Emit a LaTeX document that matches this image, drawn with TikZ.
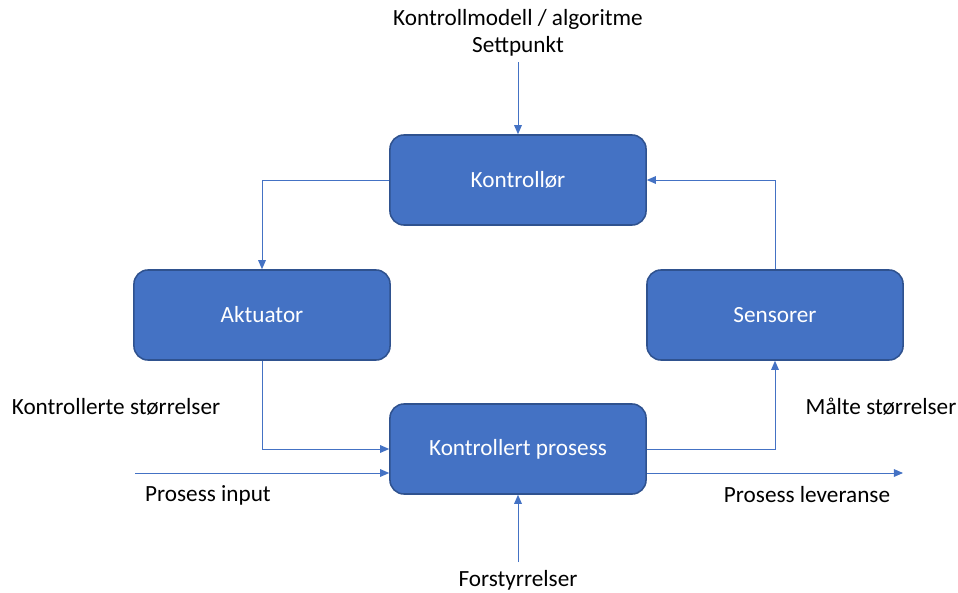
\documentclass[tikz,border=0pt]{standalone}
\usepackage{fontspec}
\setmainfont{Carlito}
\usetikzlibrary{arrows.meta}
\definecolor{boxblue}{HTML}{4472C4}
\definecolor{edgeblue}{HTML}{2F528F}

\begin{document}
\begin{tikzpicture}[x=0.025cm,y=-0.025cm,
  every node/.style={font=\fontsize{16.5}{20}\selectfont},
  block/.style={draw=edgeblue,line width=1.1pt,fill=boxblue,rounded corners=0.35cm,minimum width=6.4cm,minimum height=2.25cm,text=white},
  flow/.style={draw=boxblue,line width=0.7pt,-{Triangle[length=6.5pt,width=5.5pt]}}]
  \useasboundingbox (0,0) rectangle (958,592);
  \path (518,180) node[block] (ctrl) {Kontrollør} (262,315) node[block] (akt) {Aktuator}
  (775,315) node[block] (sens) {Sensorer} (518,449) node[block] (proc) {Kontrollert prosess};
  \path (518,19) node (model) {Kontrollmodell / algoritme} (518,46) node (setp) {Settpunkt}
  (116,407) node (kstr) {Kontrollerte størrelser} (881,407) node (mstr) {Målte størrelser}
  (208,495) node (pin) {Prosess input} (807,495) node (plev) {Prosess leveranse}
  (518,580) node (dist) {Forstyrrelser};
  \coordinate (sp) at (518,62);
  \coordinate (pi) at (135,473);
  \coordinate (pl) at (903,473);
  \coordinate (ds) at (518,562);
  \draw[flow] (sp) -- (ctrl);
  \draw[flow] (ctrl.west) -| (akt.north);
  \draw[flow] (sens.north) |- (ctrl.east);
  \draw[flow] (akt.south) |- (proc.west);
  \draw[flow] (proc.east) -| (sens.south);
  \draw[flow] (pi) -- (proc.west |- pi);
  \draw[flow] (proc.east |- pl) -- (pl);
  \draw[flow] (ds) -- (proc.south);
\end{tikzpicture}
\end{document}
